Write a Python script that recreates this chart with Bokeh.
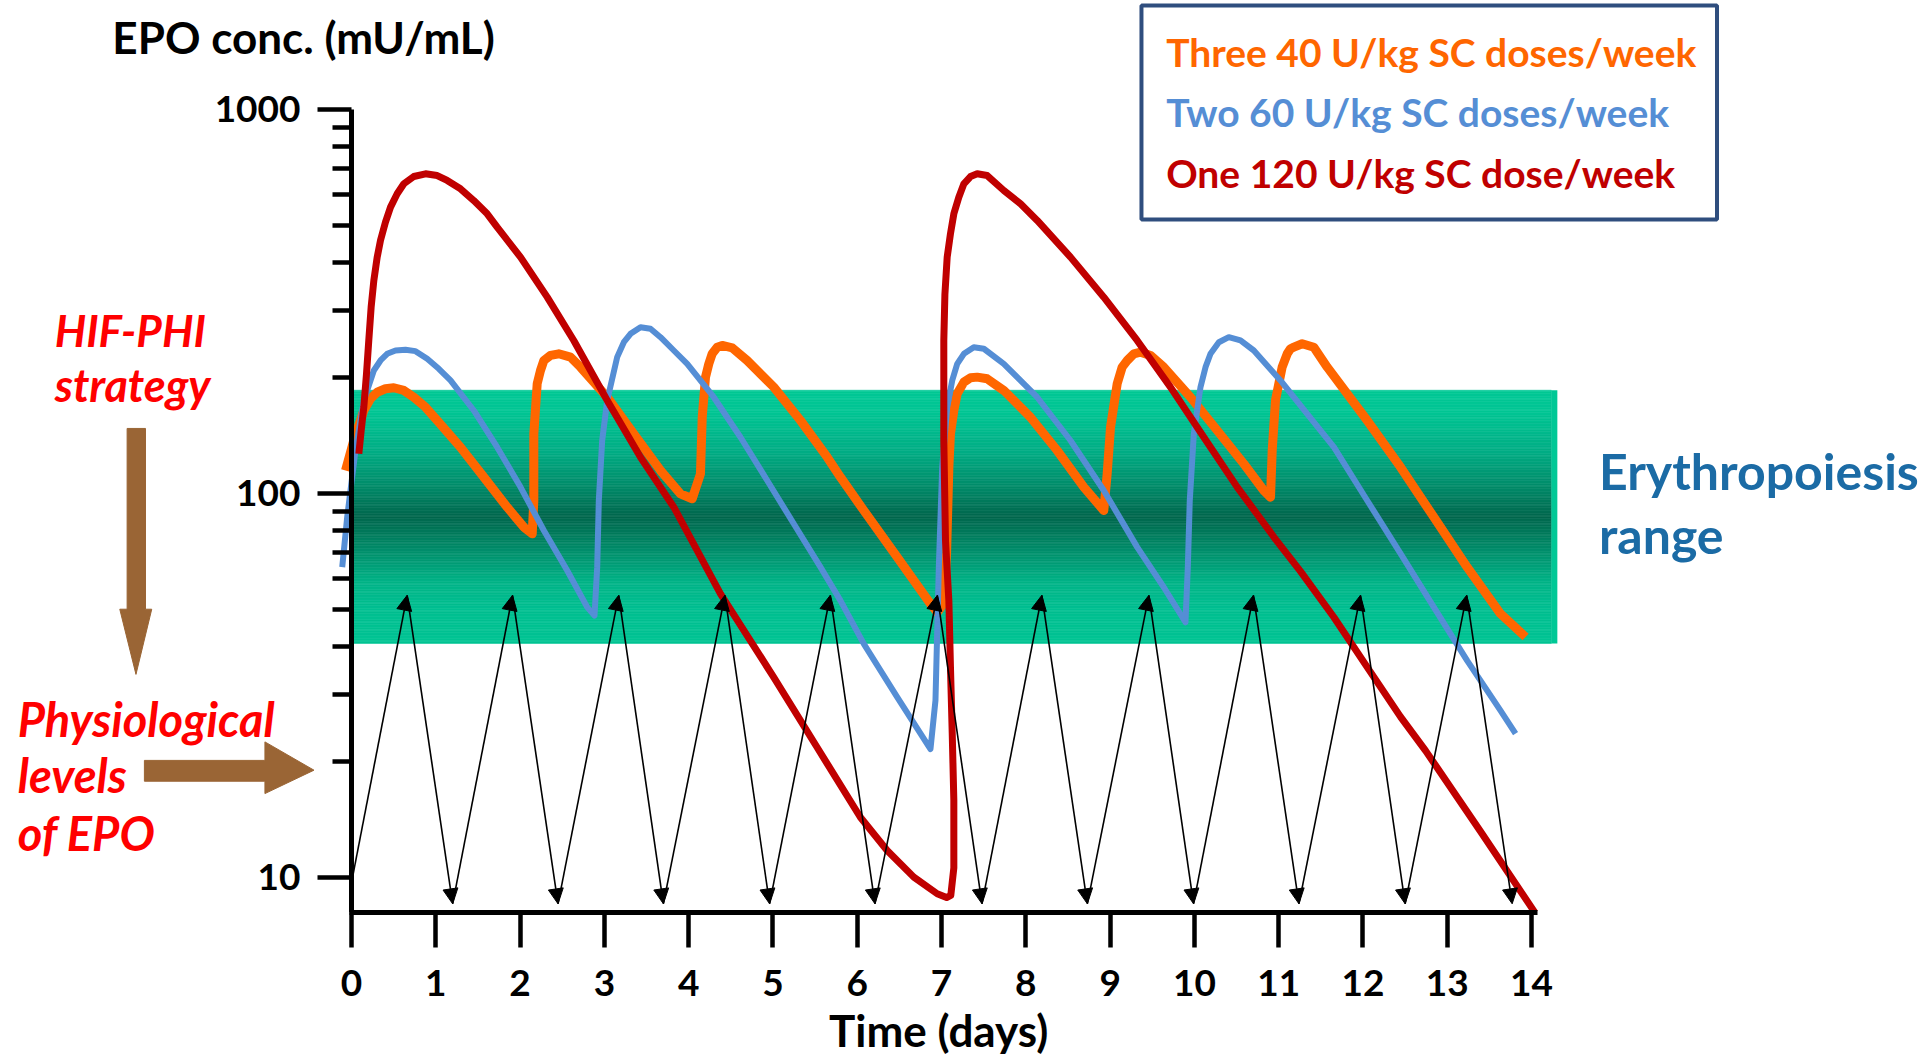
import numpy as np
from bokeh.plotting import figure
from bokeh.models import (Range1d, FixedTicker, ColumnDataSource, Arrow, NormalHead,
                          Label, PolyAnnotation, NumeralTickFormatter)
from bokeh.embed import file_html
from bokeh.resources import INLINE
from bokeh.core.properties import value

# ---------------- data ----------------
x_ticks = list(range(15))
y_ticks = [10, 100, 1000]
y_minor = [20, 30, 40, 50, 60, 70, 80, 90, 200, 300, 400, 500, 600, 700, 800, 900]

red_day = [0.087, 0.115, 0.146, 0.178, 0.205, 0.233, 0.265, 0.305, 0.344, 0.403,
           0.463, 0.542, 0.621, 0.739, 0.878, 1.017, 1.135, 1.293, 1.451, 1.610,
           1.728, 2.005, 2.322, 2.637, 3.034, 3.429, 3.824, 4.378, 5.010, 5.525,
           6.037, 6.355, 6.671, 6.949, 7.060, 7.110, 7.146, 7.146, 7.127, 7.106,
           7.087, 7.047, 7.027, 7.027, 7.040, 7.067, 7.106, 7.146, 7.205, 7.265,
           7.344, 7.423, 7.542, 7.739, 7.937, 8.135, 8.530, 8.925, 9.321, 9.716,
           10.112, 10.508, 10.945, 11.259, 11.655, 12.050, 12.446, 12.742, 13.395, 14.040]
red_epo = [126.9, 145.9, 167.8, 205, 250.3, 305.6, 358.6, 412.6, 456, 508.8,
           556.8, 603.3, 640.6, 669, 680, 673, 653.3, 621.6, 579.4, 535,
           493.8, 412.6, 324.5, 250.3, 174.7, 124.3, 92.1, 54.8, 33.2, 21.8,
           14.35, 11.76, 10.02, 9.07, 8.87, 8.98, 10.6, 15.9, 23.7, 35.3,
           52.6, 75.4, 137.4, 250.3, 330, 412.6, 474.7, 535, 591.2, 640.6,
           669, 680, 673, 615.3, 568, 514, 412.6, 324.5, 250.3, 189.2,
           140.1, 103.9, 76.9, 62.7, 47.6, 35.3, 26.2, 21.4, 13.18, 8.1]

orange_day = [-0.071, 0.027, 0.146, 0.225, 0.305, 0.403, 0.502, 0.621, 0.739, 0.878,
              1.017, 1.293, 1.570, 1.847, 2.045, 2.144, 2.163, 2.163, 2.203, 2.242,
              2.282, 2.361, 2.459, 2.598, 2.717, 3.034, 3.349, 3.666, 3.903, 4.042,
              4.140, 4.161, 4.200, 4.239, 4.279, 4.339, 4.398, 4.517, 4.694, 5.010,
              5.327, 5.644, 5.801, 6.078, 6.474, 6.869, 6.950, 7.030, 7.060, 7.087,
              7.106, 7.146, 7.186, 7.265, 7.344, 7.423, 7.542, 7.739, 8.055, 8.372,
              8.688, 8.925, 8.965, 9.005, 9.084, 9.143, 9.203, 9.281, 9.361, 9.479,
              9.637, 9.954, 10.271, 10.586, 10.823, 10.903, 10.923, 10.962, 11.041, 11.101,
              11.140, 11.180, 11.279, 11.417, 11.576, 12.050, 12.446, 12.840, 13.236, 13.632,
              13.929]
orange_epo = [114.8, 137.4, 164.5, 176.5, 183.5, 187.4, 188.5, 185.5, 178.1, 167.8,
              154.9, 132, 110.3, 92.1, 81.7, 78.5, 95.9, 143, 193.1, 209.1,
              222, 228.8, 231.1, 226.5, 213.3, 178.1, 143, 114.8, 99.8, 96.9,
              112.5, 158, 200.9, 217.6, 231.1, 240.4, 242.9, 239.5, 222, 189.2,
              154.9, 124.3, 110.3, 90.3, 68.3, 51.6, 49.0, 52.0, 70.0, 117.1,
              143, 164.5, 181.8, 195, 200.1, 200.9, 198.9, 185.5, 158, 129.4,
              103.9, 90.3, 112.5, 148.8, 193.1, 213.3, 222, 231.1, 233.4, 228.8,
              213.3, 178.1, 145.9, 119.5, 101.8, 97.8, 129.4, 174.7, 213.3, 231.1,
              238.2, 240.4, 245.4, 240.4, 213.3, 154.9, 117.1, 86.8, 64.3, 48.6,
              42.3]

blue_day = [-0.110, -0.051, 0.047, 0.146, 0.265, 0.344, 0.423, 0.522, 0.641, 0.759,
            0.898, 1.036, 1.175, 1.451, 1.728, 2.005, 2.282, 2.559, 2.796, 2.883,
            2.915, 2.934, 2.974, 3.034, 3.152, 3.231, 3.310, 3.429, 3.547, 3.666,
            3.824, 3.983, 4.298, 4.615, 4.932, 5.247, 5.564, 5.801, 6.078, 6.474,
            6.751, 6.869, 6.928, 6.948, 6.968, 7.008, 7.067, 7.127, 7.186, 7.265,
            7.383, 7.502, 7.739, 8.135, 8.530, 8.925, 9.321, 9.637, 9.894, 9.922,
            9.945, 9.993, 10.072, 10.132, 10.191, 10.290, 10.408, 10.547, 10.705, 11.021,
            11.338, 11.655, 12.050, 12.446, 12.840, 13.236, 13.632, 13.810]
blue_epo = [64.3, 86.8, 129.4, 174.7, 209.1, 222, 231.1, 235.7, 236.7, 234.8,
            224.2, 211.2, 197, 164.5, 132, 103.9, 80.1, 63.0, 50.6, 48.1,
            64.3, 95.9, 137.4, 174.7, 226.5, 247.7, 260.5, 271.1, 268.5, 255.3,
            235.7, 217.6, 178.1, 140.1, 108.1, 83.4, 64.3, 52.6, 40.6, 29.5,
            23.7, 21.6, 28.9, 43.1, 64.3, 117.1, 167.8, 197, 217.6, 231.1,
            240.4, 238.2, 217.6, 178.1, 137.4, 101.8, 72.5, 57.0, 46.2, 64.3,
            95.9, 143, 189.2, 213.3, 231.1, 247.7, 255.3, 250.3, 235.7, 197,
            161.3, 132, 95.9, 69.7, 50.6, 36.7, 27.2, 23.7]

band_low, band_high, band_end_day = 40.7, 185.7, 14.306

pulse_start = (0.0, 9.7)
pulse_peak_day = [0.66, 1.91, 3.17, 4.43, 5.68, 6.95, 8.19, 9.46, 10.70, 11.97, 13.23]
pulse_trough_day = [1.20, 2.45, 3.70, 4.96, 6.21, 7.48, 8.73, 9.99, 11.24, 12.50, 13.77]
pulse_peak_epo = 54.3
pulse_trough_epo = 8.54

legend_labels = ["Three 40 U/kg SC doses/week",
                 "Two 60 U/kg SC doses/week",
                 "One 120 U/kg SC dose/week"]

# ---------------- styles ----------------
ORANGE, BLUE, RED = "#FF6600", "#558ED5", "#C00000"
BROWN = "#9A6535"
FONT = "Lato"
PX_PER_DAY = 84.29
X_AXIS_AT = 8.108          # value where the time axis is drawn

p = figure(width=1928, height=1059,
           x_range=Range1d(-4.1642, 18.7092), y_range=Range1d(3.3574, 1922.3),
           y_axis_type="log", output_backend="svg", toolbar_location=None,
           min_border=0, min_border_left=0, min_border_right=0, min_border_top=0, min_border_bottom=0,
           outline_line_color=None, background_fill_color="white", border_fill_color="white")
p.grid.visible = False

# ---- band with vertical gradient ----
stops_t = [0.0, 0.09, 0.25, 0.38, 0.50, 0.62, 0.76, 0.86, 1.0]
stops_c = ["#00C896", "#00C694", "#00AC84", "#008C6A", "#00684E", "#008A68", "#00B488", "#00BF91", "#00C594"]
rgb = np.array([[int(c[i:i + 2], 16) for i in (1, 3, 5)] for c in stops_c], dtype=float)
n = 160
Ls = np.linspace(np.log10(band_high), np.log10(band_low), n + 1)
tm = (np.arange(n) + 0.5) / n
cols = []
for t in tm:
    r = np.interp(t, stops_t, rgb[:, 0]); g = np.interp(t, stops_t, rgb[:, 1]); b = np.interp(t, stops_t, rgb[:, 2])
    cols.append("#%02x%02x%02x" % (int(r), int(g), int(b)))
edge = band_end_day - 6.0 / PX_PER_DAY
p.quad(left=0, right=edge, top=10 ** Ls[:-1], bottom=10 ** Ls[1:],
       fill_color=cols, line_color=cols, line_width=0.6)
p.quad(left=[edge], right=[band_end_day], top=[band_high], bottom=[band_low],
       fill_color="#00C896", line_color=None)

# ---- curves ----
p.line(orange_day, orange_epo, line_color=ORANGE, line_width=9, line_join="round", line_cap="butt")
p.line(blue_day, blue_epo, line_color=BLUE, line_width=6, line_join="round", line_cap="butt")
p.line(red_day, red_epo, line_color=RED, line_width=7, line_join="round", line_cap="butt")

# ---- zig-zag arrows ----
xs0, ys0, xs1, ys1 = [], [], [], []
prev = pulse_start
for pk, tr in zip(pulse_peak_day, pulse_trough_day):
    xs0.append(prev[0]); ys0.append(prev[1]); xs1.append(pk); ys1.append(pulse_peak_epo)
    xs0.append(pk); ys0.append(pulse_peak_epo); xs1.append(tr); ys1.append(pulse_trough_epo)
    prev = (tr, pulse_trough_epo)
asrc = ColumnDataSource(dict(x_start=xs0, y_start=ys0, x_end=xs1, y_end=ys1))
p.add_layout(Arrow(end=NormalHead(size=15, fill_color="black", line_color="black", line_width=1),
                   x_start="x_start", y_start="y_start", x_end="x_end", y_end="y_end",
                   source=asrc, line_width=1.6, line_color="black"))

# ---- axes, drawn at fixed data locations ----
yax = p.yaxis[0]
yax.fixed_location = 0
yax.bounds = (X_AXIS_AT, 1000)
yax.ticker = FixedTicker(ticks=y_ticks, minor_ticks=y_minor)
yax.formatter = NumeralTickFormatter(format="0")
yax.axis_line_width = 5; yax.axis_line_color = "black"
yax.major_tick_out = 34; yax.major_tick_in = 0; yax.major_tick_line_width = 4.5
yax.minor_tick_out = 19; yax.minor_tick_in = 0; yax.minor_tick_line_width = 4.5
yax.major_label_text_font = FONT; yax.major_label_text_font_size = "37px"
yax.major_label_text_font_style = "bold"; yax.major_label_text_color = "black"
yax.major_label_standoff = 17

xax = p.xaxis[0]
xax.fixed_location = X_AXIS_AT
xax.bounds = (-2.5 / PX_PER_DAY, 14.07)
xax.ticker = FixedTicker(ticks=x_ticks, minor_ticks=[])
xax.axis_line_width = 5; xax.axis_line_color = "black"
xax.major_tick_out = 35; xax.major_tick_in = 0; xax.major_tick_line_width = 4.5
xax.minor_tick_line_color = None
xax.major_label_text_font = FONT; xax.major_label_text_font_size = "37px"
xax.major_label_text_font_style = "bold"; xax.major_label_text_color = "black"
xax.major_label_standoff = 23

# ---- legend box ----
p.quad(left=[9.372], right=[16.20], top=[1866], bottom=[517], fill_color="white",
       line_color="#2F4E7E", line_width=4)
lsrc = ColumnDataSource(dict(x=[9.665] * 3, y=[1411, 983, 685], t=legend_labels, c=[ORANGE, BLUE, RED]))
p.text(x="x", y="y", text="t", text_color="c", source=lsrc, text_font=value(FONT),
       text_font_size="39px", text_font_style="bold", text_baseline="middle", text_align="left")

# ---- texts ----
def lab(x, y, t, size, color="black", style="bold", align="left"):
    p.add_layout(Label(x=x, y=y, text=t, text_font=FONT, text_font_size=size, text_font_style=style,
                       text_color=color, text_baseline="middle", text_align=align))

lab(-0.569, 1543, "EPO conc. (mU/mL)", "44px", align="center")
lab(6.966, 4.0, "Time (days)", "44px", align="center")
lab(14.80, 114.2, "Erythropoiesis", "50px", color="#1B6BA5")
lab(14.80, 77.8, "range", "50px", color="#1B6BA5")
lab(-3.522, 266.6, "HIF-PHI", "44px", color="#FF0000", style="bold italic")
lab(-3.522, 191.2, "strategy", "45px", color="#FF0000", style="bold italic")
lab(-3.960, 25.94, "Physiological", "47px", color="#FF0000", style="bold italic")
lab(-3.960, 18.48, "levels", "47px", color="#FF0000", style="bold italic")
lab(-3.960, 13.07, "of EPO", "47px", color="#FF0000", style="bold italic")

# ---- brown block arrows ----
p.add_layout(PolyAnnotation(
    xs=[-2.662, -2.444, -2.444, -2.370, -2.557, -2.749, -2.662],
    ys=[147.7, 147.7, 49.96, 49.96, 33.8, 49.96, 49.96],
    fill_color=BROWN, fill_alpha=1, line_color=BROWN, line_alpha=1, line_width=1))
p.add_layout(PolyAnnotation(
    xs=[-2.457, -1.027, -1.027, -0.445, -1.027, -1.027, -2.457],
    ys=[20.18, 20.18, 22.55, 19.03, 16.54, 17.81, 17.81],
    fill_color=BROWN, fill_alpha=1, line_color=BROWN, line_alpha=1, line_width=1))

open("out.html", "w").write(file_html(p, INLINE))
